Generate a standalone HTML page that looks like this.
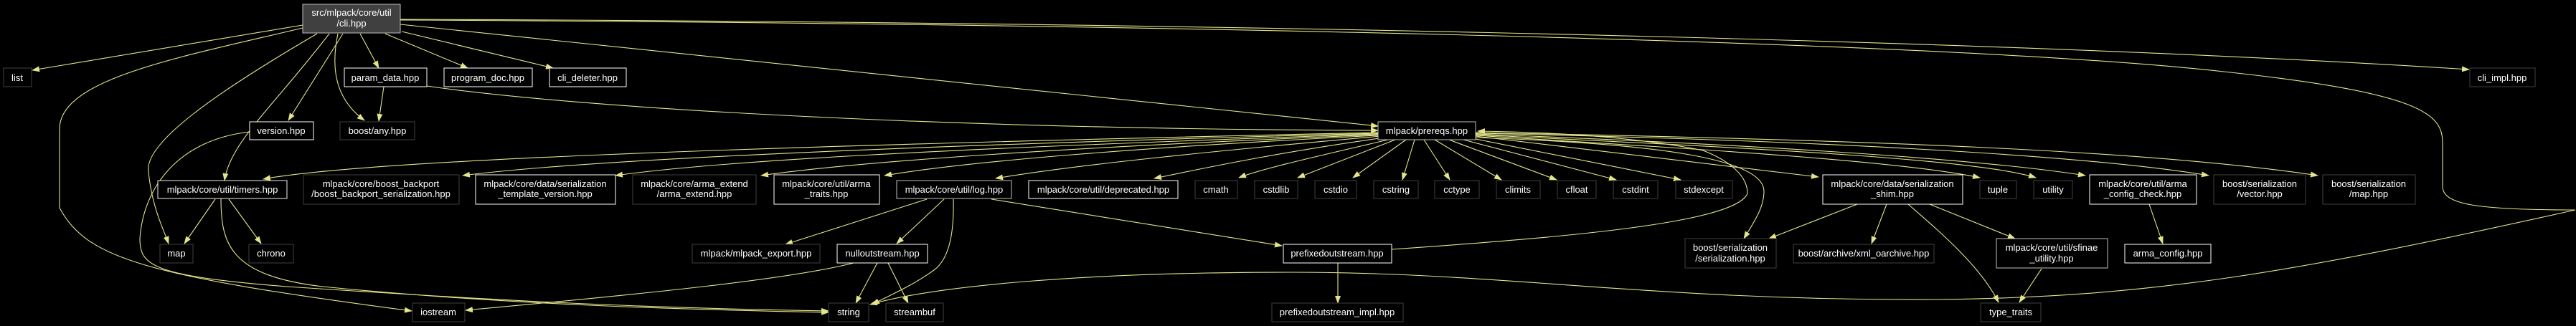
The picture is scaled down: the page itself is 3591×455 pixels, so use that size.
<!DOCTYPE html>
<html><head><meta charset="utf-8"><style>
html,body{margin:0;padding:0;background:#000;}
svg{display:block;}
text{font-family:"Liberation Sans",sans-serif;font-size:13px;fill:#fff;}
.e{fill:none;stroke:#e4e48a;stroke-width:1.1;marker-end:url(#a);}
</style></head><body>
<svg width="3591" height="455" viewBox="0 0 3591 455" xmlns="http://www.w3.org/2000/svg">
<defs><marker id="a" markerUnits="userSpaceOnUse" markerWidth="11" markerHeight="8" refX="10" refY="4" orient="auto"><path d="M0,0 L11,4 L0,8 z" fill="#e4e48a"/></marker></defs>
<rect width="3591" height="455" fill="#000"/>
<g>
<!-- edges from cli -->
<path class="e" d="M422,35 L45,98"/>
<path class="e" d="M422,39 C250,80 83,110 83,180 L83,290 C120,360 200,385 574,434"/>
<path class="e" d="M442,47 C300,130 200,200 207,240 C212,290 228,320 235,340"/>
<path class="e" d="M459,47 C380,150 320,200 313,252"/>
<path class="e" d="M478,47 L402,168"/>
<path class="e" d="M471,47 C460,100 470,140 508,168"/>
<path class="e" d="M502,47 L528,95"/>
<path class="e" d="M537,47 L652,95"/>
<path class="e" d="M560,44 L771,95"/>
<path class="e" d="M558,34 L1921,176"/>
<path class="e" d="M558,27 C1500,30 2700,50 3442,97"/>
<path class="e" d="M558,28 C1500,32 2700,55 3100,100 C3380,130 3405,160 3405,200 L3405,260 C3405,285 3450,293 3590,293 C3200,380 3000,415 2700,418 C2300,420 2100,380 1800,380 C1500,380 1300,400 1213,425"/>
<path class="e" d="M535,121 L528,169"/>
<path class="e" d="M595,120 C800,150 1300,180 1921,182"/>
<path class="e" d="M348,184 C250,195 200,260 195,333 C195,370 210,385 400,400 C700,420 900,430 1155,434"/>
<path class="e" d="M308,277 C308,340 320,385 450,400 C700,425 950,432 1155,436"/>
<path class="e" d="M300,278 L257,340"/>
<path class="e" d="M319,278 L364,340"/>
<!-- prereqs fan -->
<path class="e" d="M1921,185 C1000,205 500,225 367,250"/>
<path class="e" d="M1921,186 C1200,205 800,225 645,245"/>
<path class="e" d="M1921,187 C1300,208 1000,225 858,245"/>
<path class="e" d="M1921,188 C1500,205 1200,225 1061,245"/>
<path class="e" d="M1921,189 C1600,205 1350,225 1233,245"/>
<path class="e" d="M1925,190 C1700,210 1500,230 1388,249"/>
<path class="e" d="M1930,192 C1800,210 1700,230 1609,249"/>
<path class="e" d="M1935,195 C1850,215 1760,235 1727,248"/>
<path class="e" d="M1945,195 L1809,248"/>
<path class="e" d="M1960,195 L1886,248"/>
<path class="e" d="M1972,195 L1955,251"/>
<path class="e" d="M1985,195 L2021,251"/>
<path class="e" d="M2000,195 L2093,251"/>
<path class="e" d="M2020,195 L2170,251"/>
<path class="e" d="M2040,195 L2253,251"/>
<path class="e" d="M2052,193 L2343,251"/>
<path class="e" d="M2057,190 L2535,247"/>
<path class="e" d="M2057,189 C2400,210 2650,225 2760,248"/>
<path class="e" d="M2057,188 C2400,205 2750,220 2838,248"/>
<path class="e" d="M2057,187 C2400,200 2750,220 2907,245"/>
<path class="e" d="M2057,186 C2500,195 2900,215 3079,245"/>
<path class="e" d="M2057,185 C2600,195 3000,210 3231,245"/>
<path class="e" d="M2057,192 C2300,200 2459,220 2459,267 C2459,290 2445,310 2431,333"/>
<path class="e" d="M1940,348 C2200,330 2420,310 2436,270 C2436,240 2400,220 2374,210 C2300,195 2200,185 2060,183"/>
<!-- shim etc -->
<path class="e" d="M2589,285 L2466,333"/>
<path class="e" d="M2630,285 L2609,340"/>
<path class="e" d="M2660,285 C2700,320 2760,370 2786,422"/>
<path class="e" d="M2690,285 L2809,333"/>
<path class="e" d="M2846,375 L2815,422"/>
<path class="e" d="M2996,285 L3015,340"/>
<!-- log etc -->
<path class="e" d="M1292,278 L1095,341"/>
<path class="e" d="M1316,278 L1250,340"/>
<path class="e" d="M1329,278 C1330,320 1325,360 1302,377 C1270,400 1240,412 1216,425"/>
<path class="e" d="M1382,278 L1787,343"/>
<path class="e" d="M1223,367 L1193,423"/>
<path class="e" d="M1238,367 L1266,423"/>
<path class="e" d="M1190,367 C1100,390 900,410 649,433"/>
<path class="e" d="M1865,367 L1865,423"/>
</g>
<g stroke-width="1">
<rect x="422" y="6" width="136" height="40" fill="#404040" stroke="#bfbfbf"/>
<text x="490" y="22" text-anchor="middle">src/mlpack/core/util</text>
<text x="490" y="37" text-anchor="middle">/cli.hpp</text>
</g>
<g fill="#000" stroke-width="1">
<rect x="5" y="95" width="39" height="26" stroke="#404040"/>
<rect x="480" y="95" width="115" height="26" stroke="#fff"/>
<rect x="619" y="95" width="123" height="26" stroke="#fff"/>
<rect x="766" y="95" width="107" height="26" stroke="#fff"/>
<rect x="3443" y="95" width="91" height="26" stroke="#404040"/>
<rect x="348" y="170" width="89" height="25" stroke="#fff"/>
<rect x="474" y="170" width="104" height="25" stroke="#404040"/>
<rect x="1921" y="170" width="136" height="25" stroke="#bfbfbf"/>
<rect x="220" y="252" width="180" height="25" stroke="#eee"/>
<rect x="423" y="244" width="217" height="41" stroke="#404040"/>
<rect x="663" y="244" width="195" height="41" stroke="#fff"/>
<rect x="882" y="244" width="172" height="41" stroke="#404040"/>
<rect x="1079" y="244" width="147" height="41" stroke="#fff"/>
<rect x="1250" y="252" width="160" height="25" stroke="#bfbfbf"/>
<rect x="1434" y="252" width="208" height="25" stroke="#fff"/>
<rect x="1666" y="252" width="59" height="25" stroke="#404040"/>
<rect x="1749" y="252" width="60" height="25" stroke="#404040"/>
<rect x="1833" y="252" width="58" height="25" stroke="#404040"/>
<rect x="1915" y="252" width="62" height="25" stroke="#404040"/>
<rect x="2000" y="252" width="62" height="25" stroke="#404040"/>
<rect x="2086" y="252" width="61" height="25" stroke="#404040"/>
<rect x="2171" y="252" width="54" height="25" stroke="#404040"/>
<rect x="2249" y="252" width="62" height="25" stroke="#404040"/>
<rect x="2336" y="252" width="79" height="25" stroke="#404040"/>
<rect x="2541" y="244" width="195" height="41" stroke="#fff"/>
<rect x="2760" y="252" width="51" height="25" stroke="#404040"/>
<rect x="2835" y="252" width="54" height="25" stroke="#404040"/>
<rect x="2913" y="244" width="149" height="41" stroke="#fff"/>
<rect x="3086" y="244" width="128" height="41" stroke="#404040"/>
<rect x="3238" y="244" width="129" height="41" stroke="#404040"/>
<rect x="223" y="341" width="46" height="26" stroke="#404040"/>
<rect x="347" y="341" width="62" height="26" stroke="#404040"/>
<rect x="965" y="341" width="178" height="26" stroke="#404040"/>
<rect x="1167" y="341" width="126" height="26" stroke="#fff"/>
<rect x="1789" y="341" width="151" height="26" stroke="#fff"/>
<rect x="2349" y="333" width="127" height="41" stroke="#404040"/>
<rect x="2500" y="341" width="196" height="26" stroke="#404040"/>
<rect x="2783" y="333" width="155" height="41" stroke="#bfbfbf"/>
<rect x="2962" y="341" width="120" height="26" stroke="#fff"/>
<rect x="575" y="423" width="73" height="26" stroke="#404040"/>
<rect x="1155" y="423" width="56" height="26" stroke="#404040"/>
<rect x="1235" y="423" width="80" height="26" stroke="#404040"/>
<rect x="1773" y="423" width="183" height="26" stroke="#404040"/>
<rect x="2761" y="423" width="84" height="26" stroke="#404040"/>
</g>
<g text-anchor="middle">
<text x="24" y="113">list</text>
<text x="537" y="113">param_data.hpp</text>
<text x="680" y="113">program_doc.hpp</text>
<text x="819" y="113">cli_deleter.hpp</text>
<text x="3488" y="113">cli_impl.hpp</text>
<text x="392" y="187">version.hpp</text>
<text x="526" y="187">boost/any.hpp</text>
<text x="1989" y="187">mlpack/prereqs.hpp</text>
<text x="310" y="269">mlpack/core/util/timers.hpp</text>
<text x="531" y="261">mlpack/core/boost_backport</text>
<text x="531" y="275">/boost_backport_serialization.hpp</text>
<text x="760" y="261">mlpack/core/data/serialization</text>
<text x="760" y="275">_template_version.hpp</text>
<text x="968" y="261">mlpack/core/arma_extend</text>
<text x="968" y="275">/arma_extend.hpp</text>
<text x="1152" y="261">mlpack/core/util/arma</text>
<text x="1152" y="275">_traits.hpp</text>
<text x="1330" y="269">mlpack/core/util/log.hpp</text>
<text x="1538" y="269">mlpack/core/util/deprecated.hpp</text>
<text x="1695" y="269">cmath</text>
<text x="1779" y="269">cstdlib</text>
<text x="1862" y="269">cstdio</text>
<text x="1946" y="269">cstring</text>
<text x="2031" y="269">cctype</text>
<text x="2116" y="269">climits</text>
<text x="2198" y="269">cfloat</text>
<text x="2280" y="269">cstdint</text>
<text x="2375" y="269">stdexcept</text>
<text x="2638" y="261">mlpack/core/data/serialization</text>
<text x="2638" y="275">_shim.hpp</text>
<text x="2785" y="269">tuple</text>
<text x="2862" y="269">utility</text>
<text x="2987" y="261">mlpack/core/util/arma</text>
<text x="2987" y="275">_config_check.hpp</text>
<text x="3150" y="261">boost/serialization</text>
<text x="3150" y="275">/vector.hpp</text>
<text x="3302" y="261">boost/serialization</text>
<text x="3302" y="275">/map.hpp</text>
<text x="246" y="358">map</text>
<text x="378" y="358">chrono</text>
<text x="1054" y="358">mlpack/mlpack_export.hpp</text>
<text x="1230" y="358">nulloutstream.hpp</text>
<text x="1864" y="358">prefixedoutstream.hpp</text>
<text x="2412" y="350">boost/serialization</text>
<text x="2412" y="365">/serialization.hpp</text>
<text x="2598" y="358">boost/archive/xml_oarchive.hpp</text>
<text x="2860" y="350">mlpack/core/util/sfinae</text>
<text x="2860" y="365">_utility.hpp</text>
<text x="3022" y="358">arma_config.hpp</text>
<text x="611" y="440">iostream</text>
<text x="1183" y="440">string</text>
<text x="1275" y="440">streambuf</text>
<text x="1864" y="440">prefixedoutstream_impl.hpp</text>
<text x="2803" y="440">type_traits</text>
</g>
</svg>
</body></html>
